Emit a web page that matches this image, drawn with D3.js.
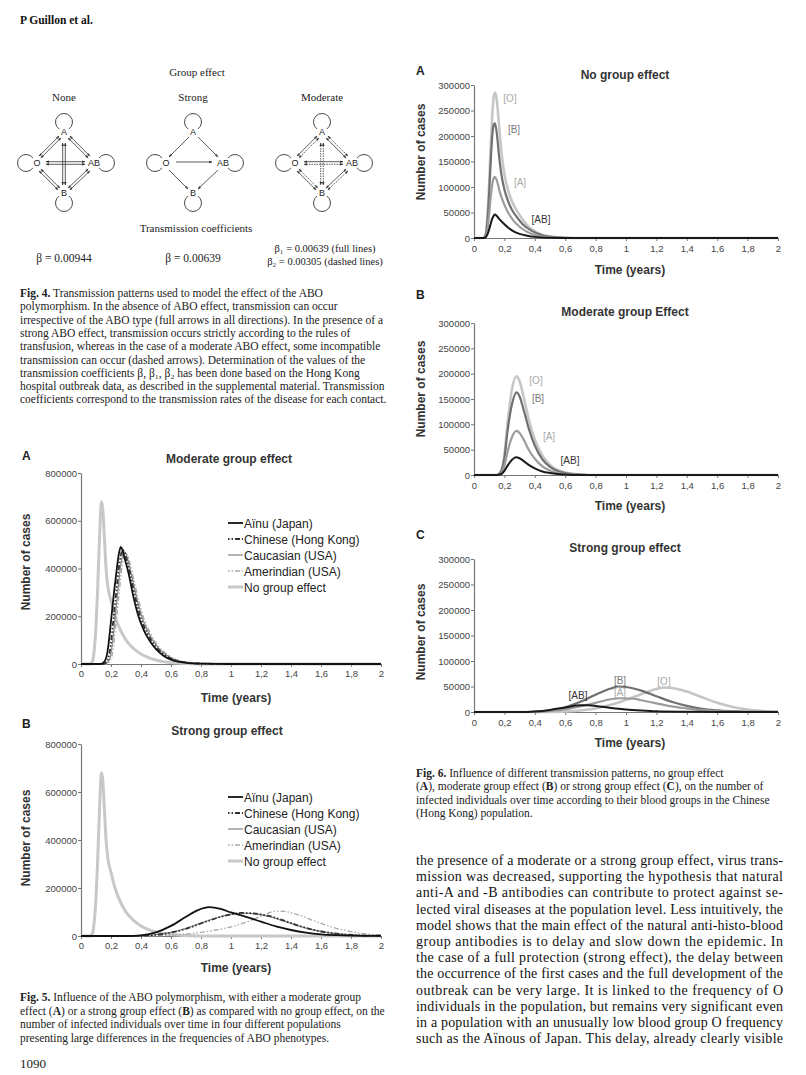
<!DOCTYPE html>
<html><head><meta charset="utf-8">
<script src="https://cdn.jsdelivr.net/npm/d3@7"></script>
<style>body{margin:0;background:#fff}svg{display:block}</style>
</head><body>
<svg id="page" width="806" height="1075"></svg>
<script>
// ---------------- DATA ----------------
const timeTicks = [0,0.2,0.4,0.6,0.8,1,1.2,1.4,1.6,1.8,2];
const timeTickLabels = ["0","0,2","0,4","0,6","0,8","1","1,2","1,4","1,6","1,8","2"];
const fig5YTicks = [0,200000,400000,600000,800000];
const fig5YLabels = ["0","200000","400000","600000","800000"];
const fig6YTicks = [0,50000,100000,150000,200000,250000,300000];
const fig6YLabels = ["0","50000","100000","150000","200000","250000","300000"];
const fig5Legend = ["Aïnu (Japan)","Chinese (Hong Kong)","Caucasian (USA)","Amerindian (USA)","No group effect"];
const bloodGroups = ["[O]","[B]","[A]","[AB]"];

// Fig 5 — no group effect (shared by A and B)
const fig5_noGroup = [[0,0],[0.06,0],[0.07,4000],[0.08,20000],[0.09,70000],[0.1,160000],[0.11,300000],[0.12,470000],[0.128,600000],[0.136,680000],[0.145,650000],[0.155,540000],[0.167,400000],[0.18,320000],[0.2,265000],[0.227,200000],[0.25,160000],[0.3,100000],[0.35,65000],[0.4,42000],[0.45,27000],[0.5,17000],[0.55,10000],[0.6,6000],[0.7,2000],[0.8,0],[2,0]];
// Fig 5A — moderate group effect
const fig5A_ainu = [[0,0],[0.13,0],[0.15,5000],[0.17,30000],[0.185,90000],[0.2,180000],[0.22,300000],[0.239,400000],[0.252,460000],[0.265,490000],[0.275,480000],[0.29,445000],[0.317,380000],[0.35,280000],[0.383,200000],[0.42,140000],[0.46,95000],[0.5,62000],[0.55,35000],[0.6,18000],[0.7,5000],[0.8,1500],[1,0],[2,0]];
const fig5A_chinese = [[0,0],[0.145,0],[0.165,5000],[0.185,30000],[0.2,90000],[0.215,180000],[0.235,300000],[0.252,400000],[0.265,455000],[0.278,478000],[0.29,468000],[0.305,435000],[0.33,370000],[0.365,270000],[0.4,190000],[0.44,132000],[0.48,88000],[0.52,58000],[0.57,33000],[0.62,17000],[0.72,5000],[0.82,1500],[1,0],[2,0]];
const fig5A_caucasian = [[0,0],[0.155,0],[0.175,5000],[0.195,30000],[0.21,90000],[0.225,180000],[0.245,300000],[0.262,400000],[0.275,450000],[0.288,470000],[0.3,462000],[0.315,430000],[0.34,365000],[0.375,268000],[0.41,190000],[0.45,132000],[0.49,88000],[0.53,58000],[0.58,33000],[0.63,17000],[0.73,5000],[0.83,1500],[1,0],[2,0]];
const fig5A_amerindian = [[0,0],[0.165,0],[0.185,5000],[0.205,30000],[0.22,90000],[0.235,180000],[0.255,300000],[0.272,400000],[0.285,445000],[0.298,462000],[0.31,455000],[0.325,425000],[0.35,360000],[0.385,265000],[0.42,190000],[0.46,132000],[0.5,88000],[0.54,58000],[0.59,33000],[0.64,17000],[0.74,5000],[0.84,1500],[1,0],[2,0]];
// Fig 5B — strong group effect
const fig5B_ainu = [[0,0],[0.3,0],[0.4,3000],[0.5,15000],[0.6,42000],[0.7,80000],[0.78,108000],[0.855,120000],[0.93,113000],[1.0,98000],[1.1,80000],[1.2,60000],[1.3,40000],[1.4,25000],[1.5,14000],[1.6,7000],[1.7,3500],[1.8,1500],[2,300]];
const fig5B_chinese = [[0,0],[0.3,0],[0.4,1000],[0.5,5000],[0.6,14000],[0.7,30000],[0.8,52000],[0.9,74000],[1.0,90000],[1.07,96000],[1.15,94000],[1.25,84000],[1.35,65000],[1.45,43000],[1.55,26000],[1.65,14000],[1.75,7000],[1.85,3000],[2,1000]];
const fig5B_caucasian = [[0,0],[0.3,0],[0.4,1000],[0.5,5500],[0.6,15000],[0.7,32000],[0.8,54000],[0.9,75000],[1.0,90000],[1.08,95000],[1.15,93000],[1.25,82000],[1.35,63000],[1.45,42000],[1.55,25000],[1.65,13500],[1.75,6500],[1.85,3000],[2,900]];
const fig5B_amerindian = [[0,0],[0.4,0],[0.5,1000],[0.6,3500],[0.7,8000],[0.8,15000],[0.9,25000],[1.0,38000],[1.1,57000],[1.2,82000],[1.3,104000],[1.35,103000],[1.45,88000],[1.55,64000],[1.65,42000],[1.75,25000],[1.85,13000],[1.95,6000],[2,4000]];
// Fig 6A — no group effect
const fig6A_O = [[0,0],[0.06,0],[0.075,5000],[0.09,50000],[0.1,110000],[0.11,180000],[0.12,240000],[0.13,278000],[0.14,285000],[0.15,270000],[0.165,220000],[0.18,170000],[0.2,125000],[0.23,88000],[0.26,65000],[0.29,50000],[0.33,32000],[0.38,17000],[0.45,6000],[0.55,1500],[0.65,0],[2,0]];
const fig6A_B = [[0,0],[0.06,0],[0.075,4000],[0.09,40000],[0.1,90000],[0.11,150000],[0.12,200000],[0.13,222000],[0.138,225000],[0.15,205000],[0.167,155000],[0.18,125000],[0.2,95000],[0.23,68000],[0.26,50000],[0.28,42000],[0.32,27000],[0.38,14000],[0.45,5500],[0.55,1200],[0.65,0],[2,0]];
const fig6A_A = [[0,0],[0.06,0],[0.075,2000],[0.09,20000],[0.1,48000],[0.11,80000],[0.12,105000],[0.13,118000],[0.138,120000],[0.15,113000],[0.17,90000],[0.2,65000],[0.23,47000],[0.26,34000],[0.3,22000],[0.35,12000],[0.4,6000],[0.5,1500],[0.6,0],[2,0]];
const fig6A_AB = [[0,0],[0.06,0],[0.075,1000],[0.09,8000],[0.1,17000],[0.11,28000],[0.12,38000],[0.13,44000],[0.138,46000],[0.15,43000],[0.17,36000],[0.2,27000],[0.23,19000],[0.26,13000],[0.3,8000],[0.35,4500],[0.4,2200],[0.5,500],[0.6,0],[2,0]];
// Fig 6B — moderate group effect
const fig6B_O = [[0,0],[0.15,0],[0.18,10000],[0.2,40000],[0.22,100000],[0.25,170000],[0.28,195000],[0.3,185000],[0.33,150000],[0.36,110000],[0.4,70000],[0.45,38000],[0.5,20000],[0.55,10000],[0.6,5000],[0.7,1000],[0.8,0],[2,0]];
const fig6B_B = [[0,0],[0.15,0],[0.18,8000],[0.2,33000],[0.22,85000],[0.25,140000],[0.28,163000],[0.3,155000],[0.33,125000],[0.36,92000],[0.4,58000],[0.45,31000],[0.5,16000],[0.55,8000],[0.6,4000],[0.7,1000],[0.8,0],[2,0]];
const fig6B_A = [[0,0],[0.15,0],[0.18,4000],[0.2,18000],[0.22,45000],[0.25,75000],[0.28,87000],[0.3,83000],[0.33,68000],[0.36,50000],[0.4,32000],[0.45,17000],[0.5,9000],[0.55,4000],[0.6,2000],[0.7,500],[0.8,0],[2,0]];
const fig6B_AB = [[0,0],[0.15,0],[0.18,2000],[0.2,8000],[0.22,18000],[0.25,30000],[0.275,35000],[0.3,33000],[0.33,27000],[0.36,20000],[0.4,13000],[0.45,7000],[0.5,4000],[0.55,2000],[0.6,1000],[0.7,0],[2,0]];
// Fig 6C — strong group effect
const fig6C_O = [[0,0],[0.5,0],[0.6,1000],[0.7,3000],[0.8,7000],[0.9,14000],[1.0,24000],[1.1,35000],[1.2,45000],[1.25,48000],[1.3,47000],[1.4,40000],[1.5,29000],[1.6,18000],[1.7,10000],[1.8,5000],[1.9,2000],[2,1000]];
const fig6C_B = [[0,0],[0.3,0],[0.4,500],[0.5,3000],[0.6,9000],[0.7,20000],[0.8,34000],[0.9,46000],[0.95,50000],[1.0,49000],[1.1,42000],[1.2,31000],[1.3,20000],[1.4,12000],[1.5,6000],[1.6,3000],[1.8,500],[2,0]];
const fig6C_A = [[0,0],[0.4,0],[0.5,2000],[0.6,5000],[0.7,11000],[0.8,18000],[0.9,25000],[0.97,27000],[1.05,26000],[1.1,23000],[1.2,17000],[1.3,11000],[1.4,7000],[1.5,3500],[1.6,1500],[1.8,300],[2,0]];
const fig6C_AB = [[0,0],[0.3,0],[0.4,1000],[0.5,4000],[0.6,9000],[0.7,13000],[0.75,13000],[0.8,12000],[0.9,8000],[1.0,5000],[1.1,3000],[1.2,1500],[1.4,500],[1.6,0],[2,0]];

// Text content
const fig4Diagrams = ["None","Strong","Moderate"];
const fig4Betas = [["β = 0.00944"],["β = 0.00639"],["β₁ = 0.00639 (full lines)","β₂ = 0.00305 (dashed lines)"]];
const fig4Caption = [
 ["Fig. 4."," Transmission patterns used to model the effect of the ABO"],
 ["","polymorphism. In the absence of ABO effect, transmission can occur"],
 ["","irrespective of the ABO type (full arrows in all directions). In the presence of a"],
 ["","strong ABO effect, transmission occurs strictly according to the rules of"],
 ["","transfusion, whereas in the case of a moderate ABO effect, some incompatible"],
 ["","transmission can occur (dashed arrows). Determination of the values of the"],
 ["","transmission coefficients β, β₁, β₂ has been done based on the Hong Kong"],
 ["","hospital outbreak data, as described in the supplemental material. Transmission"],
 ["","coefficients correspond to the transmission rates of the disease for each contact."]
];
const fig5Caption = [
 [["Fig. 5.",1],[" Influence of the ABO polymorphism, with either a moderate group",0]],
 [["effect (",0],["A",1],[") or a strong group effect (",0],["B",1],[") as compared with no group effect, on the",0]],
 [["number of infected individuals over time in four different populations",0]],
 [["presenting large differences in the frequencies of ABO phenotypes.",0]]
];
const fig6Caption = [
 [["Fig. 6.",1],[" Influence of different transmission patterns, no group effect",0]],
 [["(",0],["A",1],["), moderate group effect (",0],["B",1],[") or strong group effect (",0],["C",1],["), on the number of",0]],
 [["infected individuals over time according to their blood groups in the Chinese",0]],
 [["(Hong Kong) population.",0]]
];
const bodyText = [
 "the presence of a moderate or a strong group effect, virus trans-",
 "mission was decreased, supporting the hypothesis that natural",
 "anti-A and -B antibodies can contribute to protect against se-",
 "lected viral diseases at the population level. Less intuitively, the",
 "model shows that the main effect of the natural anti-histo-blood",
 "group antibodies is to delay and slow down the epidemic. In",
 "the case of a full protection (strong effect), the delay between",
 "the occurrence of the first cases and the full development of the",
 "outbreak can be very large. It is linked to the frequency of O",
 "individuals in the population, but remains very significant even",
 "in a population with an unusually low blood group O frequency",
 "such as the Aïnous of Japan. This delay, already clearly visible"
];

// ---------------- DRAWING ----------------
const svg = d3.select("#page");
svg.append("rect").attr("width",806).attr("height",1075).attr("fill","#fff");
const SERIF = "'Liberation Serif','Times New Roman',serif";
const SANS = "'Liberation Sans',Arial,sans-serif";

// header
svg.append("text").attr("x",20).attr("y",24).attr("font-family",SERIF).attr("font-weight","bold")
  .attr("font-size",11.5).attr("fill","#111").text("P Guillon et al.");
svg.append("text").attr("x",20).attr("y",1068).attr("font-family",SERIF).attr("font-size",13).attr("fill","#222").text("1090");

// ---- Fig 4 diagram ----
const defs = svg.append("defs");
defs.append("marker").attr("id","arr").attr("viewBox","0 0 10 10").attr("refX",9).attr("refY",5)
  .attr("markerWidth",4).attr("markerHeight",4).attr("orient","auto-start-reverse")
  .append("path").attr("d","M0,1 L10,5 L0,9 Z").attr("fill","#333");

svg.append("text").attr("x",197).attr("y",76).attr("text-anchor","middle").attr("font-family",SERIF).attr("font-size",11).attr("fill","#222").text("Group effect");
svg.append("text").attr("x",196).attr("y",232).attr("text-anchor","middle").attr("font-family",SERIF).attr("font-size",11).attr("fill","#222").text("Transmission coefficients");

const diagCx = [64,193,322];
const diagCy = 163;
const nodes = {A:[0,-31],O:[-27,0],AB:[30,0],B:[0,30]};
const loops = {A:[0,-41,-90],O:[-38,0,180],AB:[42,0,0],B:[0,40,90]};
const edges = [
 {a:[-4,-26],b:[-24,-6]},
 {a:[5,-26],b:[25,-6]},
 {a:[-24,7],b:[-5,26]},
 {a:[25,7],b:[5,26]}
];
function seg(g, p, q, off, dash, arrows){
  const dx=q[0]-p[0], dy=q[1]-p[1], L=Math.hypot(dx,dy);
  const nx=-dy/L*off, ny=dx/L*off;
  const l = g.append("line").attr("x1",p[0]+nx).attr("y1",p[1]+ny).attr("x2",q[0]+nx).attr("y2",q[1]+ny)
    .attr("stroke","#333").attr("stroke-width",0.8);
  if(dash) l.attr("stroke-dasharray","1.5,1");
  if(arrows==="both"){ l.attr("marker-end","url(#arr)").attr("marker-start","url(#arr)"); }
  if(arrows==="end"){ l.attr("marker-end","url(#arr)"); }
}
fig4Diagrams.forEach((name,i)=>{
  const cx = diagCx[i];
  const g = svg.append("g").attr("transform",`translate(${cx},${diagCy})`);
  svg.append("text").attr("x",cx).attr("y",101).attr("text-anchor","middle").attr("font-family",SERIF).attr("font-size",11).attr("fill","#222").text(name);
  Object.keys(loops).forEach(k=>{
    const [lx,ly,ang] = loops[k]; const r=8.5;
    const a0 = (ang+180-35)*Math.PI/180, a1=(ang+180+35)*Math.PI/180;
    const p0=[lx+r*Math.cos(a1), ly+r*Math.sin(a1)], p1=[lx+r*Math.cos(a0), ly+r*Math.sin(a0)];
    g.append("path").attr("d",`M${p0[0]},${p0[1]} A${r},${r} 0 1 1 ${p1[0]},${p1[1]}`)
      .attr("fill","none").attr("stroke","#333").attr("stroke-width",0.9);
  });
  edges.forEach((e,j)=>{
    if(name==="None"){ seg(g,e.a,e.b,1.3,false,"both"); seg(g,e.a,e.b,-1.3,false,"both"); }
    else if(name==="Strong"){ seg(g,e.a,e.b,0,false,"end"); }
    else { seg(g,e.a,e.b,1.3,false,"both"); seg(g,e.a,e.b,-1.3,true,"both"); }
  });
  if(name==="None"){
    seg(g,[0,-20],[0,22],1.3,false,"both"); seg(g,[0,-20],[0,22],-1.3,false,"both");
    seg(g,[-18,0],[21,0],1.3,false,"both"); seg(g,[-18,0],[21,0],-1.3,false,"both");
  } else if(name==="Strong"){
    seg(g,[-17,-1],[19,-1],0,false,"end");
  } else {
    seg(g,[0,-20],[0,22],1.3,true,"both"); seg(g,[0,-20],[0,22],-1.3,true,"both");
    seg(g,[-18,0],[21,0],-1.3,false,"both"); seg(g,[-18,0],[21,0],1.3,true,"both");
  }
  Object.keys(nodes).forEach(k=>{
    const [nx,ny]=nodes[k];
    g.append("text").attr("x",nx).attr("y",ny+3.2).attr("text-anchor","middle").attr("font-family",SANS)
      .attr("font-size",9).attr("fill","#222").text(k);
  });
  const betas = fig4Betas[i];
  betas.forEach((b,k)=>{
    svg.append("text").attr("x",cx+(betas.length>1?3:0)).attr("y",(betas.length>1?252+k*13:262))
      .attr("text-anchor","middle").attr("font-family",SERIF).attr("font-size",betas.length>1?10.5:11.5).attr("fill","#222").text(b);
  });
});

// Fig 4 caption
fig4Caption.forEach((ln,i)=>{
  const t = svg.append("text").attr("x",20).attr("y",297+i*13.3).attr("font-family",SERIF).attr("font-size",11.5).attr("fill","#222");
  if(ln[0]) t.append("tspan").attr("font-weight","bold").text(ln[0]);
  t.append("tspan").text(ln[1]);
});
function caption(lines, x, y0, dy){
  lines.forEach((ln,i)=>{
    const t = svg.append("text").attr("x",x).attr("y",y0+i*dy).attr("font-family",SERIF).attr("font-size",11.5).attr("fill","#222");
    ln.forEach(([s,b])=>{ const ts=t.append("tspan").text(s); if(b) ts.attr("font-weight","bold"); });
  });
}
caption(fig5Caption,20,1001,13.5);
caption(fig6Caption,416,777,13.3);

// body text
bodyText.forEach((s,i)=>{
  svg.append("text").attr("x",416).attr("y",865+i*16.2).attr("font-family",SERIF).attr("font-size",14)
    .attr("fill","#111").attr("textLength",367).attr("lengthAdjust","spacing").text(s);
});

// ---- generic chart ----
function chart(o){
  const x = d3.scaleLinear().domain([0,2]).range([o.x0,o.x1]);
  const y = d3.scaleLinear().domain([0,o.yMax]).range([o.y0,o.y1]);
  const g = svg.append("g");
  const ya = d3.axisLeft(y).tickValues(o.yTicks).tickFormat((d,i)=>o.yLabels[i]).tickSize(3).tickSizeOuter(0).tickPadding(1);
  const xa = d3.axisBottom(x).tickValues(timeTicks).tickFormat((d,i)=>timeTickLabels[i]).tickSize(3).tickSizeOuter(0).tickPadding(o.xpad);
  const gy = g.append("g").attr("transform",`translate(${o.x0},0)`).call(ya);
  const gx = g.append("g").attr("transform",`translate(0,${o.y0})`).call(xa);
  [gy,gx].forEach(a=>{
    a.select(".domain").attr("stroke","#777").attr("stroke-width",1.2);
    a.selectAll(".tick line").attr("stroke","#777");
    a.selectAll("text").attr("font-family",SANS).attr("font-size",9.5).attr("fill","#444");
  });
  const line = d3.line().x(d=>x(d[0])).y(d=>y(d[1])).curve(d3.curveMonotoneX);
  o.series.forEach(s=>{
    const p = g.append("path").datum(s.data).attr("d",line).attr("fill","none")
      .attr("stroke",s.color).attr("stroke-width",s.w).attr("stroke-linejoin","round");
    if(s.dash) p.attr("stroke-dasharray",s.dash);
  });
  g.append("text").attr("x",o.letterX).attr("y",o.letterY).attr("font-family",SANS).attr("font-weight","bold").attr("font-size",12).attr("fill","#222").text(o.letter);
  g.append("text").attr("x",o.titleX).attr("y",o.titleY).attr("text-anchor","middle").attr("font-family",SANS).attr("font-weight","bold").attr("font-size",12).attr("fill","#333").text(o.title);
  g.append("text").attr("transform",`translate(${o.ylabX},${o.ylabY}) rotate(-90)`).attr("text-anchor","middle")
    .attr("font-family",SANS).attr("font-weight","bold").attr("font-size",12).attr("fill","#333").text("Number of cases");
  g.append("text").attr("x",o.xlabX).attr("y",o.xlabY).attr("text-anchor","middle").attr("font-family",SANS)
    .attr("font-weight","bold").attr("font-size",12).attr("fill","#333").text("Time (years)");
  return {x,y,g};
}

// Fig 5 styles
const f5Styles = [
  {color:"#111",w:1.8,dash:null},
  {color:"#333",w:1.8,dash:"1.5,2,1.5,2,5,2"},
  {color:"#8a8a8a",w:1.3,dash:null},
  {color:"#a8a8a8",w:1.3,dash:"1.5,2,1.5,2,5,2"},
  {color:"#c8c8c8",w:3,dash:null}
];
function fig5(o, data){
  const series = [
    {data:fig5_noGroup, ...f5Styles[4]},
    {data:data[3], ...f5Styles[3]},
    {data:data[2], ...f5Styles[2]},
    {data:data[1], ...f5Styles[1]},
    {data:data[0], ...f5Styles[0]}
  ];
  const c = chart({...o, yMax:800000, yTicks:fig5YTicks, yLabels:fig5YLabels, series, x0:81, x1:381, xpad:3, ylabX:30, xlabX:236});
  fig5Legend.forEach((lab,i)=>{
    const yy = o.legY + i*16;
    const st = f5Styles[i];
    const l = c.g.append("line").attr("x1",228).attr("x2",243).attr("y1",yy).attr("y2",yy)
      .attr("stroke",st.color).attr("stroke-width",st.w);
    if(st.dash) l.attr("stroke-dasharray","1.5,2,1.5,2,5,2");
    c.g.append("text").attr("x",244).attr("y",yy+4.5).attr("font-family",SANS).attr("font-size",12).attr("fill","#222").text(lab);
  });
}
fig5({y0:664,y1:473,letter:"A",letterX:22,letterY:460,title:"Moderate group effect",titleX:229,titleY:463,ylabY:562,xlabY:702,legY:523},
  [fig5A_ainu,fig5A_chinese,fig5A_caucasian,fig5A_amerindian]);
fig5({y0:936,y1:744,letter:"B",letterX:22,letterY:728,title:"Strong group effect",titleX:227,titleY:735,ylabY:838,xlabY:972,legY:797},
  [fig5B_ainu,fig5B_chinese,fig5B_caucasian,fig5B_amerindian]);

// Fig 6
const f6Styles = {O:{color:"#c6c6c6",w:2.6},B:{color:"#707070",w:2.2},A:{color:"#9c9c9c",w:2.2},AB:{color:"#1a1a1a",w:2}};
const f6LabelColors = ["#a8a8a8","#7a7a7a","#a8a8a8","#333"];
function fig6(o, data, labelPos){
  const keys = ["O","B","A","AB"];
  const series = keys.map((k,i)=>({data:data[i], ...f6Styles[k]}));
  const c = chart({...o, yMax:300000, yTicks:fig6YTicks, yLabels:fig6YLabels, series, x0:474, x1:778, xpad:4, ylabX:425, xlabX:630, titleX:625, letterX:416});
  bloodGroups.forEach((b,i)=>{
    c.g.append("text").attr("x",labelPos[i][0]).attr("y",labelPos[i][1]+4).attr("text-anchor","middle")
      .attr("font-family",SANS).attr("font-size",10).attr("fill",f6LabelColors[i]).text(b);
  });
}
fig6({y0:238,y1:85,letter:"A",letterY:75,title:"No group effect",titleY:79,ylabY:152,xlabY:274},
  [fig6A_O,fig6A_B,fig6A_A,fig6A_AB], [[510,98],[514,129],[520,182],[541,219]]);
fig6({y0:475,y1:323,letter:"B",letterY:299,title:"Moderate group Effect",titleY:316,ylabY:389,xlabY:510},
  [fig6B_O,fig6B_B,fig6B_A,fig6B_AB], [[536,380],[538,398],[549,436],[570,460]]);
fig6({y0:712,y1:559,letter:"C",letterY:539,title:"Strong group effect",titleY:552,ylabY:632,xlabY:747},
  [fig6C_O,fig6C_B,fig6C_A,fig6C_AB], [[664,681],[620,680],[620,692],[578,695]]);
</script>
</body></html>
